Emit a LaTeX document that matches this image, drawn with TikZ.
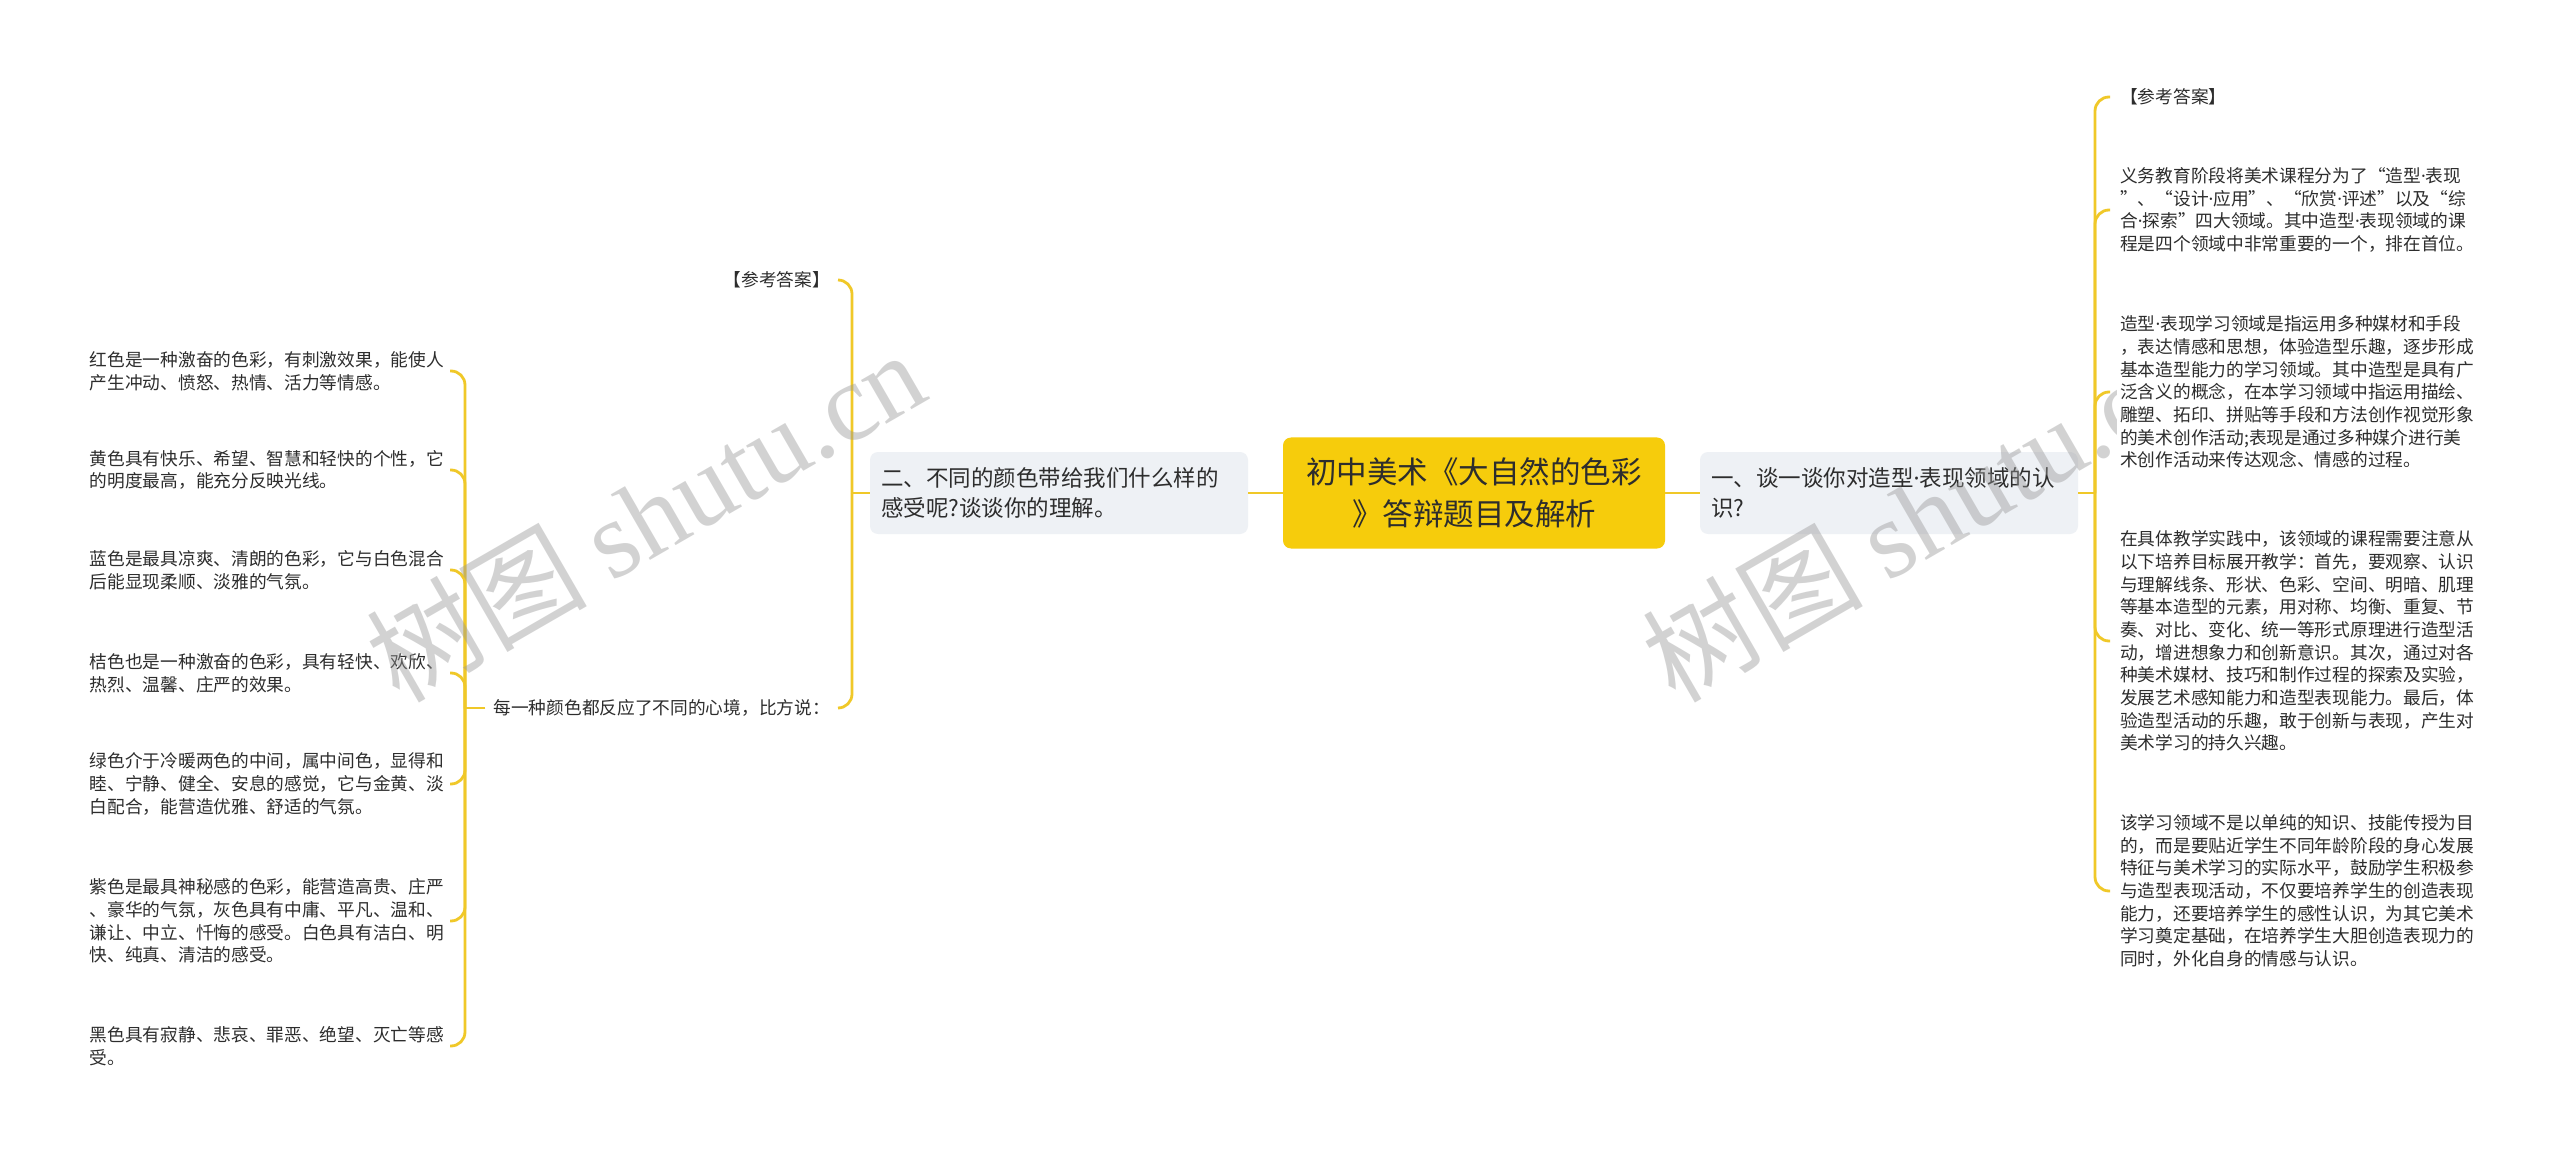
\documentclass[tikz,border=0pt]{standalone}
\usepackage{fontspec}
\setmainfont{Noto Sans CJK SC}
\newfontfamily\wmserif{Liberation Serif}
\newfontfamily\latinf{Noto Sans}
\newcommand{\mydot}{{\latinf ·}}
\usetikzlibrary{calc}
\definecolor{linecol}{RGB}{240,200,40}
\definecolor{rootfill}{RGB}{246,204,12}
\definecolor{subfill}{RGB}{238,241,245}
\definecolor{txt}{RGB}{45,45,45}
\definecolor{wmcol}{RGB}{150,150,150}
\begin{document}
\begin{tikzpicture}[x=1pt,y=-1pt,
  conn/.style={draw=linecol, line width=2.8pt},
  branch/.style={conn, rounded corners=14pt},
  rootbox/.style={fill=rootfill, rounded corners=8pt, minimum width=382pt, minimum height=111pt, align=center, font=\fontsize{30.5}{42}\selectfont, text=txt, inner sep=0pt},
  subbox/.style={fill=subfill, rounded corners=8pt, minimum width=377pt, minimum height=82pt, text width=356pt, align=left, inner xsep=11pt, inner ysep=0pt, font=\fontsize{22.5}{30}\selectfont, text=txt},
  midtxt/.style={inner xsep=8pt, inner ysep=2pt, font=\fontsize{17.7}{22.7}\selectfont, text=txt, align=left},
  leaftxt/.style={inner xsep=6pt, inner ysep=2pt, font=\fontsize{17.7}{22.7}\selectfont, text=txt, align=left},
  rleaf/.style={leaftxt, anchor=west, inner xsep=10pt},
  lleaf/.style={leaftxt, anchor=east},
  wmark/.style={text=wmcol, text opacity=0.42, inner sep=0pt, rotate=30, font=\fontsize{110}{110}\selectfont},
]
\useasboundingbox[fill=white] (0,0) rectangle (2560,1155);

% central and first-level nodes
\node[rootbox] (root) at (1474,493) {初中美术《大自然的色彩\\》答辩题目及解析};
\node[subbox] (q1) at (1889,493) {一、谈一谈你对造型\mydot 表现领域的认\\识?};
\node[subbox] (q2) at (1059,493) {二、不同的颜色带给我们什么样的\\感受呢?谈谈你的理解。};

% junctions
\coordinate (jl) at (852,493);
\coordinate (jr) at (2095,493);
\coordinate (jm) at (465,708);

% left second level
\node[midtxt, anchor=east] (a2) at (838,280) {【参考答案】};
\node[midtxt, anchor=east] (m2) at (838,708) {每一种颜色都反应了不同的心境，比方说：};

% left leaves
\node[lleaf] (c1) at (450,371) {红色是一种激奋的色彩，有刺激效果，能使人\\产生冲动、愤怒、热情、活力等情感。};
\node[lleaf] (c2) at (450,470) {黄色具有快乐、希望、智慧和轻快的个性，它\\的明度最高，能充分反映光线。};
\node[lleaf] (c3) at (450,570) {蓝色是最具凉爽、清朗的色彩，它与白色混合\\后能显现柔顺、淡雅的气氛。};
\node[lleaf] (c4) at (450,673) {桔色也是一种激奋的色彩，具有轻快、欢欣、\\热烈、温馨、庄严的效果。};
\node[lleaf] (c5) at (450,784) {绿色介于冷暖两色的中间，属中间色，显得和\\睦、宁静、健全、安息的感觉，它与金黄、淡\\白配合，能营造优雅、舒适的气氛。};
\node[lleaf] (c6) at (450,921) {紫色是最具神秘感的色彩，能营造高贵、庄严\\、豪华的气氛，灰色具有中庸、平凡、温和、\\谦让、中立、忏悔的感受。白色具有洁白、明\\快、纯真、清洁的感受。};
\node[lleaf] (c7) at (450,1046) {黑色具有寂静、悲哀、罪恶、绝望、灭亡等感\\受。};

% right leaves
\node[rleaf] (a1) at (2110,97) {【参考答案】};
\node[rleaf] (p1) at (2110,210) {义务教育阶段将美术课程分为了“造型\mydot 表现\\”、“设计\mydot 应用”、“欣赏\mydot 评述”以及“综\\合\mydot 探索”四大领域。其中造型\mydot 表现领域的课\\程是四个领域中非常重要的一个，排在首位。};
\node[rleaf] (p2) at (2110,392) {造型\mydot 表现学习领域是指运用多种媒材和手段\\，表达情感和思想，体验造型乐趣，逐步形成\\基本造型能力的学习领域。其中造型是具有广\\泛含义的概念，在本学习领域中指运用描绘、\\雕塑、拓印、拼贴等手段和方法创作视觉形象\\的美术创作活动;表现是通过多种媒介进行美\\术创作活动来传达观念、情感的过程。};
\node[rleaf] (p3) at (2110,641) {在具体教学实践中，该领域的课程需要注意从\\以下培养目标展开教学：首先，要观察、认识\\与理解线条、形状、色彩、空间、明暗、肌理\\等基本造型的元素，用对称、均衡、重复、节\\奏、对比、变化、统一等形式原理进行造型活\\动，增进想象力和创新意识。其次，通过对各\\种美术媒材、技巧和制作过程的探索及实验，\\发展艺术感知能力和造型表现能力。最后，体\\验造型活动的乐趣，敢于创新与表现，产生对\\美术学习的持久兴趣。};
\node[rleaf] (p4) at (2110,891) {该学习领域不是以单纯的知识、技能传授为目\\的，而是要贴近学生不同年龄阶段的身心发展\\特征与美术学习的实际水平，鼓励学生积极参\\与造型表现活动，不仅要培养学生的创造表现\\能力，还要培养学生的感性认识，为其它美术\\学习奠定基础，在培养学生大胆创造表现力的\\同时，外化自身的情感与认识。};

% connectors
\draw[conn] (root.west) -- (q2.east);
\draw[conn] (root.east) -- (q1.west);
\draw[conn] (q2.west) -- (jl);
\draw[branch] (jl) |- (a2.east);
\draw[branch] (jl) |- (m2.east);
\draw[conn] (m2.west) -- (jm);
\foreach \c in {c1,c2,c3,c4,c5,c6,c7} \draw[branch] (jm) |- (\c.east);
\draw[conn] (q1.east) -- (jr);
\foreach \c in {a1,p1,p2,p3,p4} \draw[branch] (jr) |- (\c.west);

% watermarks
\node[wmark] (wm1) at (645,515) {树图 {\wmserif shutu.cn}};
\begin{scope}
\clip (0,0) rectangle (2116,1155);
\node[wmark] (wm2) at (1921,515) {树图 {\wmserif shutu.cn}};
\end{scope}
\end{tikzpicture}
\end{document}
